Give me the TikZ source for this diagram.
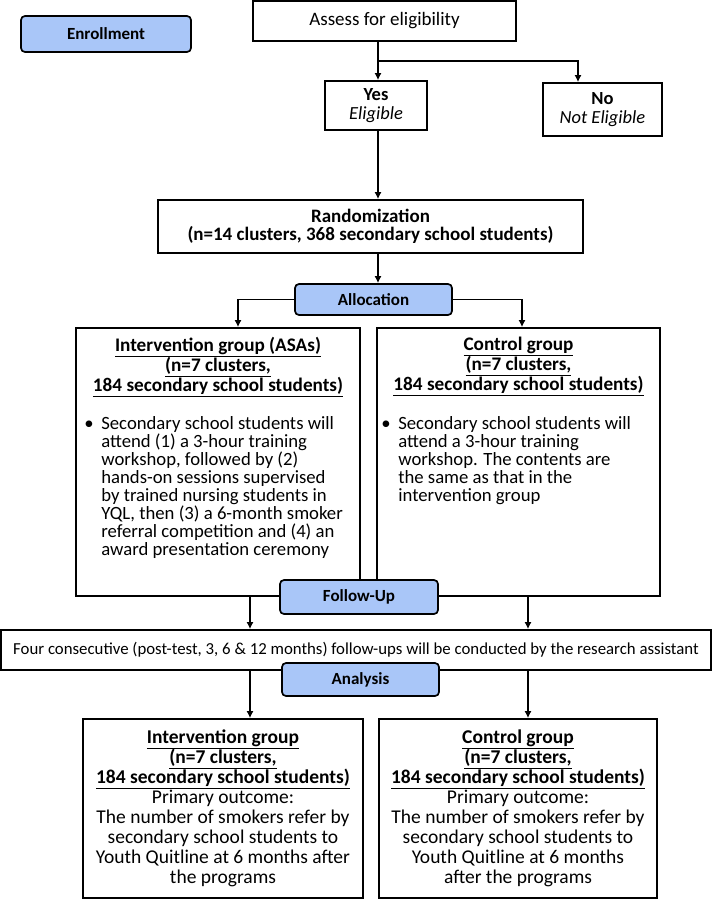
\documentclass[tikz,border=0pt]{standalone}
\usepackage{fontspec}
\setmainfont{Carlito}
\usetikzlibrary{arrows.meta}
\definecolor{stageblue}{RGB}{169,198,248}
\lineskiplimit=-20pt

\begin{document}
\begin{tikzpicture}[x=1pt, y=-1pt, >={Latex[length=7pt,width=7pt]}]
\tikzset{
  box/.style={draw, line width=1.7pt, inner sep=0pt, align=center, font=\fontsize{19}{20}\selectfont},
  stage/.style={draw, line width=1.7pt, rounded corners=4pt, fill=stageblue, inner sep=0pt, minimum height=33pt, font=\bfseries\fontsize{17}{20}\selectfont},
  head/.style={anchor=north, inner sep=0pt, align=center, font=\bfseries\fontsize{19.2}{20}\selectfont},
  body/.style={anchor=north west, inner sep=0pt, align=left, font=\fontsize{18.7}{18}\selectfont},
  link/.style={->, line width=1.7pt}
}
\useasboundingbox (0,0) rectangle (712,899);

% enrollment
\node[stage, minimum width=170pt, minimum height=36pt] (enroll) at (106,34) {Enrollment};
\node[box, minimum width=263pt, minimum height=40pt] (assess) at (384.5,21) {Assess for eligibility};
\node[box, minimum width=102pt, minimum height=49pt, font=\fontsize{18.5}{19.5}\selectfont] (yes) at (376,105.5) {\textbf{Yes}\\\textit{Eligible}};
\node[box, minimum width=119pt, minimum height=53pt, font=\fontsize{18.5}{19.5}\selectfont] (no) at (602.5,109.5) {\textbf{No}\\\textit{Not Eligible}};
\node[box, minimum width=425pt, minimum height=53pt, font=\bfseries\fontsize{19}{18.5}\selectfont] (random) at (370.5,226.5) {Randomization\\(n=14 clusters, 368 secondary school students)};

% allocation
\node[box, minimum width=284pt, minimum height=268pt] (interv) at (218,462) {};
\node[box, minimum width=283pt, minimum height=268pt] (control) at (518.5,462) {};
\node[head] (intervhead) at ([yshift=-10pt]interv.north) {\underline{Intervention group (ASAs)}\\\underline{(n=7 clusters,}\\\underline{184 secondary school students)}};
\node[head] (controlhead) at ([yshift=-10pt]control.north) {\underline{Control group}\\\underline{(n=7 clusters,}\\\underline{184 secondary school students)}};
\node[body] (intervbody) at ([xshift=9pt,yshift=-89pt]interv.north west) {\makebox[17pt][l]{\textbullet}Secondary school students will\\
  \hspace*{17pt}attend (1) a 3-hour training\\
  \hspace*{17pt}workshop, followed by (2)\\
  \hspace*{17pt}hands-on sessions supervised\\
  \hspace*{17pt}by trained nursing students in\\
  \hspace*{17pt}YQL, then (3) a 6-month smoker\\
  \hspace*{17pt}referral competition and (4) an\\
  \hspace*{17pt}award presentation ceremony};
\node[body] (controlbody) at ([xshift=5pt,yshift=-89pt]control.north west) {\makebox[17pt][l]{\textbullet}Secondary school students will\\
  \hspace*{17pt}attend a 3-hour training\\
  \hspace*{17pt}workshop. The contents are\\
  \hspace*{17pt}the same as that in the\\
  \hspace*{17pt}intervention group};
\node[stage, minimum width=157pt, minimum height=31pt] (alloc) at (373.5,299.5) {Allocation};

% follow-up and analysis
\node[box, minimum width=710pt, minimum height=40pt, font=\fontsize{16.8}{20}\selectfont] (fups) at (356,650) {Four consecutive (post-test, 3, 6 \& 12 months) follow-ups will be conducted by the research assistant};
\node[stage, minimum width=158pt, minimum height=34pt] (fup) at (359,597) {Follow-Up};
\node[box, minimum width=280pt, minimum height=179pt, font=\fontsize{19.5}{20}\selectfont] (outl) at (223,808.5) {\textbf{\underline{Intervention group}}\\\textbf{\underline{(n=7 clusters,}}\\\textbf{\underline{184 secondary school students)}}\\Primary outcome:\\The number of smokers refer by\\secondary school students to\\Youth Quitline at 6 months after\\the programs};
\node[box, minimum width=278pt, minimum height=179pt, font=\fontsize{19.5}{20}\selectfont] (outr) at (518,808.5) {\textbf{\underline{Control group}}\\\textbf{\underline{(n=7 clusters,}}\\\textbf{\underline{184 secondary school students)}}\\Primary outcome:\\The number of smokers refer by\\secondary school students to\\Youth Quitline at 6 months\\after the programs};
\node[stage, minimum width=157pt] (analysis) at (360.5,679.5) {Analysis};

% connectors
\coordinate (trunk) at (378,61);
\coordinate (nobranch) at (578,61);
\coordinate (splitl) at (238,299.5);
\coordinate (splitr) at (522,299.5);
\coordinate (downl) at (250,0);
\coordinate (downr) at (528,0);
\draw[link] (trunk |- assess.south) -- (trunk |- yes.north);
\draw[link] (trunk) -- (nobranch) -- (nobranch |- no.north);
\draw[link] (trunk |- yes.south) -- (trunk |- random.north);
\draw[link] (trunk |- random.south) -- (trunk |- alloc.north);
\draw[link] (alloc.west) -- (splitl) -- (splitl |- interv.north);
\draw[link] (alloc.east) -- (splitr) -- (splitr |- control.north);
\draw[link] (downl |- interv.south) -- (downl |- fups.north);
\draw[link] (downr |- control.south) -- (downr |- fups.north);
\draw[link] (downl |- fups.south) -- (downl |- outl.north);
\draw[link] (downr |- fups.south) -- (downr |- outr.north);
\end{tikzpicture}
\end{document}
